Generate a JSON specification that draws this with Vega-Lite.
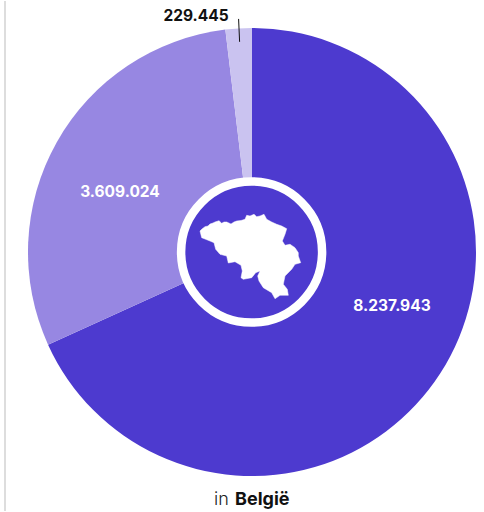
{
"$schema":"https://vega.github.io/schema/vega-lite/v6.json",
"width":484,"height":512,
"autosize":{"type":"fit","contains":"padding"},
"padding":0,
"background":"white",
"view":{"stroke":null},
"datasets":{"slices":[
{"name":"a","order":1,"value":8237943,"label":"8.237.943"},
{"name":"b","order":2,"value":3609024,"label":"3.609.024"},
{"name":"c","order":3,"value":229445,"label":"229.445"}
]},
"layer":[
{"data":{"values":[{}]},"mark":{"type":"rule","color":"#d2d2d2","strokeWidth":1.5},
 "encoding":{"x":{"datum":5,"type":"quantitative","scale":{"domain":[0,484]},"axis":null}}},
{"data":{"name":"slices"},"mark":{"type":"arc","outerRadius":224,"innerRadius":0},
 "encoding":{
  "x":{"datum":252,"type":"quantitative","scale":{"domain":[0,484]},"axis":null},
  "y":{"datum":252,"type":"quantitative","scale":{"domain":[512,0]},"axis":null},
  "theta":{"field":"value","type":"quantitative","stack":true},
  "order":{"field":"order"},
  "color":{"field":"name","type":"nominal","legend":null,"scale":{"domain":["a","b","c"],"range":["#4d3acf","#9787e2","#cac3f0"]}}}},
{"data":{"values":[{}]},"mark":{"type":"point","filled":false,"shape":"circle","size":19881,"fill":"#4d3acf","fillOpacity":1,"stroke":"white","strokeWidth":8.5,"opacity":1},
 "encoding":{
  "x":{"datum":251.6,"type":"quantitative","scale":{"domain":[0,484]},"axis":null},
  "y":{"datum":252,"type":"quantitative","scale":{"domain":[512,0]},"axis":null}}},
{"data":{"values":[{"type":"Feature","geometry":{"type":"Polygon","coordinates":[[[200,230],[202,228],[205,225.7],[208,225],[210,223],[213,222],[215,221],[219,219.7],[221.7,222.3],[224,221],[226.7,221],[231,223],[234,221],[236.7,220],[241,219.5],[245,218.3],[246.7,214.3],[250,215],[254,213.3],[256.7,215.7],[260,215],[264,213.3],[266.7,218.3],[271.7,221],[276.7,223.3],[281.7,225],[286.7,227.7],[285,233.3],[282.3,240],[285,244.3],[290,243.3],[295,246.7],[298.3,251.7],[298.3,255],[300.7,261.7],[295,263.3],[291.7,268.3],[285,275],[283.3,283.3],[287.3,288.3],[288.3,294.3],[280,294.3],[275,297.7],[271.7,291.7],[263.3,286.7],[259,280],[257.7,275],[260,270],[255.7,271.7],[251.7,276.7],[243.3,278.3],[241,276.7],[242.3,270],[241,264.3],[235,260.7],[228.3,262],[226.7,255],[220,253.3],[215.7,248.3],[214,241.7],[210,240],[205,238],[201.7,236.7],[200,230]]]}}],"format":{"type":"json"}},
 "projection":{"type":"identity","scale":1,"translate":[0,0]},
 "mark":{"type":"geoshape","fill":"white","stroke":"white","strokeWidth":0.5}},
{"data":{"values":[{}]},"mark":{"type":"rule","color":"#111111","strokeWidth":1},
 "encoding":{
  "x":{"datum":238.6,"type":"quantitative","scale":{"domain":[0,484]},"axis":null},
  "x2":{"datum":239.6},
  "y":{"datum":18,"type":"quantitative","scale":{"domain":[512,0]},"axis":null},
  "y2":{"datum":41}}},
{"data":{"values":[{"label":"8.237.943"}]},"mark":{"type":"text","font":"Inter","fontSize":15.5,"fontWeight":700,"align":"center","baseline":"middle","color":"white"},
 "encoding":{
  "x":{"datum":392,"type":"quantitative","scale":{"domain":[0,484]},"axis":null},
  "y":{"datum":306,"type":"quantitative","scale":{"domain":[512,0]},"axis":null},
  "text":{"field":"label"}}},
{"data":{"values":[{"label":"3.609.024"}]},"mark":{"type":"text","font":"Inter","fontSize":15.5,"fontWeight":700,"align":"center","baseline":"middle","color":"white"},
 "encoding":{
  "x":{"datum":120,"type":"quantitative","scale":{"domain":[0,484]},"axis":null},
  "y":{"datum":192,"type":"quantitative","scale":{"domain":[512,0]},"axis":null},
  "text":{"field":"label"}}},
{"data":{"values":[{"label":"229.445"}]},"mark":{"type":"text","font":"Inter","fontSize":15.5,"fontWeight":700,"align":"center","baseline":"middle","color":"#111111"},
 "encoding":{
  "x":{"datum":196,"type":"quantitative","scale":{"domain":[0,484]},"axis":null},
  "y":{"datum":15,"type":"quantitative","scale":{"domain":[512,0]},"axis":null},
  "text":{"field":"label"}}},
{"data":{"values":[{"label":"in"}]},"mark":{"type":"text","font":"Inter","fontSize":18,"fontWeight":300,"align":"left","baseline":"alphabetic","color":"#222222"},
 "encoding":{
  "x":{"datum":214,"type":"quantitative","scale":{"domain":[0,484]},"axis":null},
  "y":{"datum":506,"type":"quantitative","scale":{"domain":[512,0]},"axis":null},
  "text":{"field":"label"}}},
{"data":{"values":[{"label":"België"}]},"mark":{"type":"text","font":"Inter","fontSize":18,"fontWeight":700,"align":"left","baseline":"alphabetic","color":"#111111"},
 "encoding":{
  "x":{"datum":235,"type":"quantitative","scale":{"domain":[0,484]},"axis":null},
  "y":{"datum":506,"type":"quantitative","scale":{"domain":[512,0]},"axis":null},
  "text":{"field":"label"}}}
]
}
